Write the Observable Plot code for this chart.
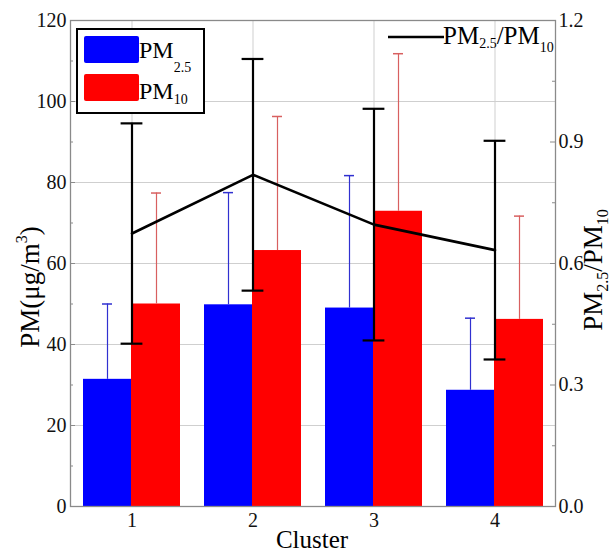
<!DOCTYPE html>
<html><head><meta charset="utf-8">
<script src="https://cdn.jsdelivr.net/npm/d3@7"></script>
<script src="https://cdn.jsdelivr.net/npm/@observablehq/plot@0.6"></script>
<style>
body{margin:0;background:#fff;}
#chart svg{display:block;}
</style></head><body><div id="chart"></div>
<script>
// ---- data ----
const clusters = [1, 2, 3, 4];
const pm25 = [31.4, 49.8, 49.0, 28.7];
const pm25Err = [18.6, 27.7, 32.7, 17.8];
const pm10 = [50.0, 63.2, 72.9, 46.2];
const pm10Err = [27.4, 33.1, 38.9, 25.5];
const ratio = [0.674, 0.819, 0.696, 0.633];
const ratioErr = [0.272, 0.286, 0.286, 0.270];
const leftTicks = [0, 20, 40, 60, 80, 100, 120];
const leftMinor = [10, 30, 50, 70, 90, 110];
const rightTicks = [0.0, 0.3, 0.6, 0.9, 1.2];
const rightMinor = [0.15, 0.45, 0.75, 1.05];
const k = 100; // right axis (0–1.2) mapped onto left axis (0–120)

const rows = clusters.map((c, i) => ({
  c,
  pm25: pm25[i], pm25Hi: pm25[i] + pm25Err[i],
  pm10: pm10[i], pm10Hi: pm10[i] + pm10Err[i],
  r: ratio[i] * k, rLo: (ratio[i] - ratioErr[i]) * k, rHi: (ratio[i] + ratioErr[i]) * k
}));

const font = "'Liberation Serif', 'Times New Roman', serif";
const W = 612, H = 554, mL = 70, mR = 57, mT = 20, mB = 48;
const fw = W - mL - mR;

const chart = Plot.plot({
  width: W, height: H, marginLeft: mL, marginRight: mR, marginTop: mT, marginBottom: mB,
  style: {fontFamily: font, fontSize: "20px", color: "#111", background: "#fff", overflow: "visible"},
  x: {type: "band", domain: clusters, padding: 0, label: null},
  y: {domain: [0, 120], label: null},
  marks: [
    Plot.gridY([20, 40, 60, 80, 100], {stroke: "#cfcfcf", strokeOpacity: 1}),
    Plot.ruleX(clusters, {x: d => d, stroke: "#cfcfcf"}),
    Plot.barY(rows, {x: "c", y: "pm25", fill: "#0000ff", insetLeft: 12, insetRight: 61}),
    Plot.barY(rows, {x: "c", y: "pm10", fill: "#ff0000", insetLeft: 60, insetRight: 12}),
    Plot.ruleX(rows, {x: "c", y1: "pm25", y2: "pm25Hi", stroke: "#3030d0", strokeWidth: 1.2, dx: -24.5}),
    Plot.tickY(rows, {x: "c", y: "pm25Hi", stroke: "#3030d0", strokeWidth: 1.5, insetLeft: 31, insetRight: 80}),
    Plot.ruleX(rows, {x: "c", y1: "pm10", y2: "pm10Hi", stroke: "#d86060", strokeWidth: 1.2, dx: 24.5}),
    Plot.tickY(rows, {x: "c", y: "pm10Hi", stroke: "#d86060", strokeWidth: 1.5, insetLeft: 80, insetRight: 31}),
    Plot.line(rows, {x: "c", y: "r", stroke: "#000", strokeWidth: 2.6}),
    Plot.ruleX(rows, {x: "c", y1: "rLo", y2: "rHi", stroke: "#000", strokeWidth: 2.2}),
    Plot.tickY(rows, {x: "c", y: "rHi", stroke: "#000", strokeWidth: 2.2, insetLeft: 49.6, insetRight: 49.6}),
    Plot.tickY(rows, {x: "c", y: "rLo", stroke: "#000", strokeWidth: 2.2, insetLeft: 49.6, insetRight: 49.6}),
    Plot.frame({stroke: "#8a8a8a", strokeWidth: 1.3}),
    Plot.tickY(leftTicks, {y: d => d, stroke: "#8a8a8a", insetRight: fw - 5}),
    Plot.tickY(leftMinor, {y: d => d, stroke: "#8a8a8a", insetRight: fw - 3}),
    Plot.tickY(rightTicks, {y: d => d * k, stroke: "#8a8a8a", insetLeft: fw - 5}),
    Plot.tickY(rightMinor, {y: d => d * k, stroke: "#8a8a8a", insetLeft: fw - 3}),
    Plot.axisY(leftTicks, {anchor: "left", tickSize: 0, tickPadding: 4, label: null, fontSize: 20, fontFamily: font}),
    Plot.axisY(rightTicks.map(v => v * k), {anchor: "right", tickSize: 0, tickPadding: 3, label: null, fontSize: 20, fontFamily: font, tickFormat: d => (d / k).toFixed(1)}),
    Plot.axisX(clusters, {anchor: "bottom", tickSize: 0, tickPadding: 6, label: null, fontSize: 20, fontFamily: font})
  ]
});

document.getElementById("chart").appendChild(chart);

const svg = d3.select(chart);
// force the serif face on all axis tick labels
svg.selectAll("text").style("font-family", font).style("fill", "#111");

// ---- titles and legends (text with subscripts) ----
const g = svg.append("g").attr("font-family", font).attr("fill", "#000").attr("text-anchor", "start");

g.append("text").attr("x", 312).attr("y", 548).attr("text-anchor", "middle")
  .attr("font-size", 25).text("Cluster");

const lt = g.append("text").attr("transform", "translate(39,287) rotate(-90)")
  .attr("text-anchor", "middle").attr("font-size", 27);
lt.append("tspan").text("PM(μg/m");
lt.append("tspan").attr("font-size", 16).attr("dy", -12).text("3");
lt.append("tspan").attr("dy", 12).text(")");

const rt = g.append("text").attr("transform", "translate(602,270) rotate(-90)")
  .attr("text-anchor", "middle").attr("font-size", 27);
rt.append("tspan").text("PM");
rt.append("tspan").attr("font-size", 16).attr("dy", 6).text("2.5");
rt.append("tspan").attr("dy", -6).text("/PM");
rt.append("tspan").attr("font-size", 16).attr("dy", 6).text("10");

// bar legend
g.append("rect").attr("x", 77).attr("y", 29).attr("width", 127).attr("height", 84)
  .attr("fill", "#fff").attr("stroke", "#000").attr("stroke-width", 2);
g.append("rect").attr("x", 84).attr("y", 36).attr("width", 55).attr("height", 27).attr("rx", 2).attr("fill", "#0000ff");
g.append("rect").attr("x", 84).attr("y", 74).attr("width", 55).attr("height", 27).attr("rx", 2).attr("fill", "#ff0000");
const l1 = g.append("text").attr("x", 139).attr("y", 58).attr("font-size", 24);
l1.append("tspan").text("PM");
l1.append("tspan").attr("font-size", 14).attr("dy", 14).text("2.5");
const l2 = g.append("text").attr("x", 139).attr("y", 99).attr("font-size", 24);
l2.append("tspan").text("PM");
l2.append("tspan").attr("font-size", 14).attr("dy", 5).text("10");

// ratio legend
g.append("line").attr("x1", 388).attr("x2", 444).attr("y1", 37).attr("y2", 37)
  .attr("stroke", "#000").attr("stroke-width", 2.6);
const l3 = g.append("text").attr("x", 443).attr("y", 44).attr("font-size", 25);
l3.append("tspan").text("PM");
l3.append("tspan").attr("font-size", 14).attr("dy", 4).text("2.5");
l3.append("tspan").attr("dy", -4).text("/PM");
l3.append("tspan").attr("font-size", 14).attr("dy", 8).text("10");
</script>
</body></html>
